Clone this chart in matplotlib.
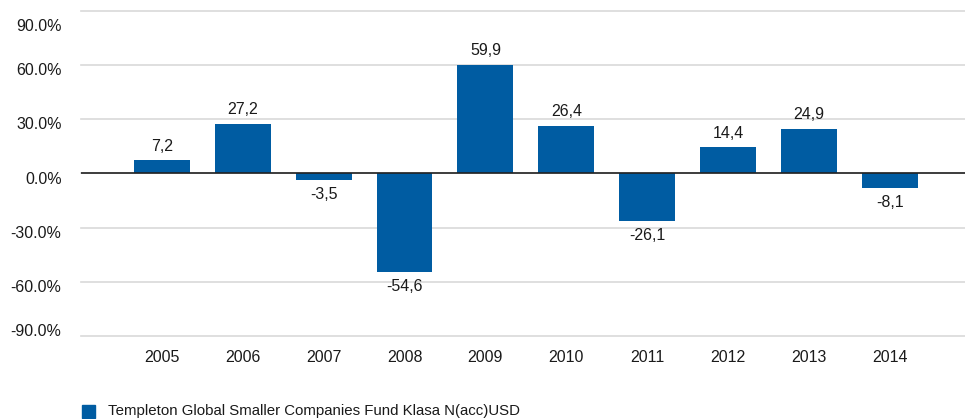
import matplotlib
matplotlib.use("Agg")
import matplotlib.pyplot as plt
import matplotlib.transforms as mtrans
from matplotlib.patches import Rectangle

years = ["2005", "2006", "2007", "2008", "2009", "2010", "2011", "2012", "2013", "2014"]
returns = [7.2, 27.2, -3.5, -54.6, 59.9, 26.4, -26.1, 14.4, 24.9, -8.1]
yticks = [90, 60, 30, 0, -30, -60, -90]
series_name = "Templeton Global Smaller Companies Fund Klasa N(acc)USD"
color = "#005ca2"

plt.rcParams["font.family"] = ["Liberation Sans", "DejaVu Sans"]
FS = 11.5

fig = plt.figure(figsize=(9.65, 4.19), dpi=100)
ax = fig.add_axes([81 / 965, 83 / 419, 1 - 81 / 965, 325 / 419])

x = list(range(len(years)))
ax.bar(x, returns, width=0.69, color=color, zorder=3)

for xi, v in zip(x, returns):
    lab = f"{v:.1f}".replace(".", ",")
    if v >= 0:
        ax.annotate(lab, (xi, v), xytext=(0, 5), textcoords="offset points",
                    ha="center", va="bottom", fontsize=FS, color="#1a1a1a")
    else:
        ax.annotate(lab, (xi, v), xytext=(0, -5), textcoords="offset points",
                    ha="center", va="top", fontsize=FS, color="#1a1a1a")

ax.set_ylim(-90, 90)
ax.set_xlim(-1, 9.93)
ax.set_yticks(yticks)
ax.set_yticklabels([f"{t:.1f}%" for t in yticks])
ax.set_xticks(x)
ax.set_xticklabels(years)
ax.tick_params(axis="both", length=0, colors="#1a1a1a", labelsize=FS)
ax.tick_params(axis="y", pad=14)
ax.tick_params(axis="x", pad=10)
ax.grid(axis="y", color="#d9d9d9", linewidth=1.2, zorder=0)
for gl in ax.get_ygridlines():
    gl.set_clip_on(False)
ax.axhline(0, color="#222222", linewidth=1.2, zorder=4)
for s in ax.spines.values():
    s.set_visible(False)

# label placement quirk of the original renderer (in pixels)
label_shift = {90: -14, -90: 6}
for t, lbl in zip(yticks, ax.get_yticklabels()):
    dy = label_shift.get(t, -4)
    lbl.set_transform(lbl.get_transform() +
                      mtrans.ScaledTranslation(0, dy / 100, fig.dpi_scale_trans))

# legend
fig.patches.append(Rectangle((82 / 965, 1 / 419), 13 / 965, 13 / 419,
                             transform=fig.transFigure, color=color))
fig.text(108 / 965, 8 / 419, series_name, ha="left", va="center",
         fontsize=10.8, color="#1a1a1a")

fig.savefig("out.png", dpi=100)
